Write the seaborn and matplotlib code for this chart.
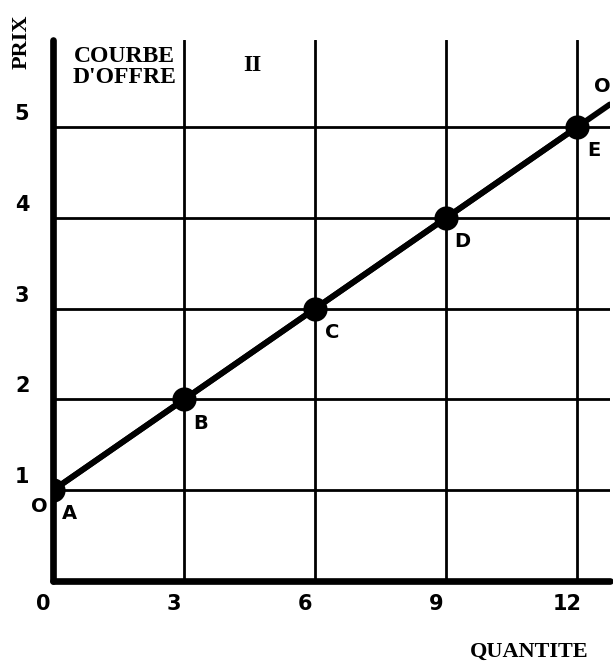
import matplotlib
matplotlib.use("Agg")
import matplotlib.pyplot as plt
from matplotlib.transforms import ScaledTranslation
import seaborn as sns

# Données de la courbe d'offre
quantite = [0, 3, 6, 9, 12]
prix = [1, 2, 3, 4, 5]
points = ["A", "B", "C", "D", "E"]
x_ticks = [0, 3, 6, 9, 12]
y_ticks = [1, 2, 3, 4, 5]

sns.set_theme(style="white")
plt.rcParams["font.family"] = ["DejaVu Sans"]
plt.rcParams["text.color"] = "black"
plt.rcParams["xtick.color"] = "black"
plt.rcParams["ytick.color"] = "black"

fig = plt.figure(figsize=(6.13, 6.61), dpi=100)
ax = fig.add_axes([0.0865, 0.121, 0.9083, 0.8185])

# Courbe + points
ax.axline((quantite[0], prix[0]), (quantite[-1], prix[-1]), color="black", lw=4.2,
          solid_capstyle="round", zorder=3)
sns.lineplot(x=quantite, y=prix, color="black", lw=4.2, ax=ax, zorder=3)
sns.scatterplot(x=quantite, y=prix, color="black", s=260, edgecolor="black", ax=ax, zorder=4)

for xq, yp, lab in zip(quantite, prix, points):
    ax.annotate(lab, (xq, yp), xytext=(12, -17), textcoords="offset points",
                ha="center", va="center", fontsize=14, fontweight="bold")

# les deux "O" de la courbe
ax.annotate("O", (quantite[0], prix[0]), xytext=(-10, -12), textcoords="offset points",
            ha="center", va="center", fontsize=14, fontweight="bold")
ax.annotate("O", (quantite[-1], prix[-1]), xytext=(18, 29), textcoords="offset points",
            ha="center", va="center", fontsize=14, fontweight="bold")

ax.set_xlim(0, 12.75)
ax.set_ylim(0, 5.96)

# quadrillage
ax.set_xticks(x_ticks)
ax.set_yticks(y_ticks)
ax.grid(True, color="black", lw=2.0)
ax.set_axisbelow(True)
ax.set_xticklabels([str(v) for v in x_ticks], fontsize=15, fontweight="bold")
ax.set_yticklabels([str(v) for v in y_ticks], fontsize=15, fontweight="bold")
ax.tick_params(axis="x", length=0, pad=9)
ax.tick_params(axis="y", length=0, pad=17)
for lbl in ax.get_xticklabels():
    lbl.set_transform(lbl.get_transform() + ScaledTranslation(-0.10, 0, fig.dpi_scale_trans))
for lbl in ax.get_yticklabels():
    lbl.set_transform(lbl.get_transform() + ScaledTranslation(0, 0.15, fig.dpi_scale_trans))

for side in ["top", "right"]:
    ax.spines[side].set_visible(False)
for side in ["left", "bottom"]:
    ax.spines[side].set_color("black")
    ax.spines[side].set_linewidth(4.8)
    ax.spines[side].set_capstyle("round")

serif = ["Liberation Serif", "DejaVu Serif"]
ax.text(1.63, 5.66, "COURBE\nD'OFFRE", ha="center", va="center", fontsize=17,
        fontweight="bold", family=serif, linespacing=1.0)
ax.text(4.56, 5.68, "II", ha="center", va="center", fontsize=17,
        fontweight="bold", family=serif)
fig.text(22 / 613, 1 - 42 / 661, "PRIX", rotation=90, ha="center", va="center",
         fontsize=16, fontweight="bold", family=serif)
fig.text(529 / 613, 1 - 652 / 661, "QUANTITE", ha="center", va="center",
         fontsize=16, fontweight="bold", family=serif)

fig.savefig("out.png", dpi=100, facecolor="white")
